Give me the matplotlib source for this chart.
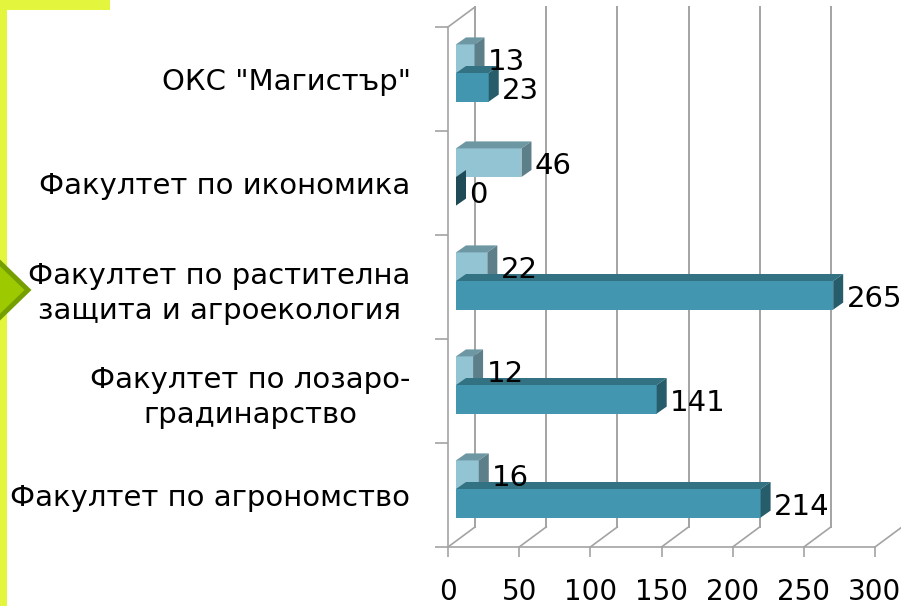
"""Students per faculty, drawn as a PowerPoint-like pseudo-3D bar chart."""
import numpy as np
import matplotlib
matplotlib.use("Agg")
import matplotlib.pyplot as plt
from matplotlib.patches import Polygon, Rectangle

plt.rcParams["font.family"] = ["DejaVu Sans"]

# -------------------------------------------------------
# Data (bottom category first).
# -------------------------------------------------------
categories = [
    "Факултет по агрономство",
    "Факултет по лозаро-\nградинарство",
    "Факултет по растителна\nзащита и агроекология",
    "Факултет по икономика",
    'ОКС "Магистър"',
]
series_dark = [214, 141, 265, 0, 23]
series_light = [16, 12, 22, 46, 13]
x_ticks = [0, 50, 100, 150, 200, 250, 300]

# -------------------------------------------------------
# Geometry / style.
# -------------------------------------------------------
W, H = 901, 606
px_x = 427 / 300.0      # pixels per value unit
px_y = 104.0            # pixels per category unit

def ux(px):
    return px / px_x

def uy(px):
    return px / px_y

DX, DY = ux(27), uy(20)        # full depth of the box
FX, FY = ux(8), uy(6)          # front plane of the bars
BX, BY = ux(10), uy(7)         # depth of one bar
bar_h = 0.275

grid_c = "#a3a3a3"
light = dict(front="#93c4d4", top="#6e97a4", side="#5d7f8a")
dark = dict(front="#4296b0", top="#327283", side="#275d6a")

fig = plt.figure(figsize=(W / 100, H / 100), dpi=100)
fig.patch.set_facecolor("white")

# decorative border and arrow on the left
fig.add_artist(Rectangle((0, 0), 7 / W, 1, transform=fig.transFigure,
                         color="#e3f53c", lw=0))
fig.add_artist(Rectangle((0, 1 - 10 / H), 110 / W, 10 / H,
                         transform=fig.transFigure, color="#e3f53c", lw=0))
arrow = np.array([[-4, 259], [28, 290], [-4, 321]], dtype=float)
fig.add_artist(Polygon(np.c_[arrow[:, 0] / W, 1 - arrow[:, 1] / H],
                       closed=True, transform=fig.transFigure,
                       facecolor="#9cc900", edgecolor="#759f00", lw=3.5))

ax = fig.add_axes([448 / W, (H - 547) / H, 427 / W, 520 / H])
ax.set_xlim(0, 300)
ax.set_ylim(-0.5, 4.5)
ax.patch.set_alpha(0)
for s in ["top", "right"]:
    ax.spines[s].set_visible(False)
for s in ["left", "bottom"]:
    ax.spines[s].set_color(grid_c)
    ax.spines[s].set_linewidth(1.2)

# back wall, floor and left wall
for t in x_ticks:
    ax.plot([t + DX, t + DX], [-0.5 + DY, 4.5 + DY], color=grid_c,
            lw=1.4, clip_on=False, zorder=1)
    ax.plot([t, t + DX], [-0.5, -0.5 + DY], color=grid_c,
            lw=1.2, clip_on=False, zorder=1)
ax.plot([0, DX], [4.5, 4.5 + DY], color=grid_c, lw=1.2,
        clip_on=False, zorder=1)

# ticks
ax.set_xticks(x_ticks)
ax.tick_params(axis="x", direction="out", length=7, width=1.2,
               color=grid_c, labelsize=20, pad=15)
ax.set_yticks(np.arange(-0.5, 4.6, 1.0))
ax.set_yticklabels([])
ax.tick_params(axis="y", which="major", direction="out", length=9.5,
               width=1.2, color=grid_c)
ax.set_yticks(np.arange(len(categories)), minor=True)
ax.set_yticklabels(categories, minor=True)
ax.tick_params(axis="y", which="minor", length=0, labelsize=21, pad=27)
plt.setp(ax.get_yticklabels(minor=True), multialignment="center",
         linespacing=1.3)

# -------------------------------------------------------
# Bars, drawn back (top) to front (bottom); labels on top of all.
# -------------------------------------------------------
z = 2
for i in range(len(categories) - 1, -1, -1):
    for v, y0, col in [
        (series_light[i], i, light),
        (series_dark[i], i - bar_h, dark),
    ]:
        y0 = y0 + FY
        y1 = y0 + bar_h
        ax.barh(y0 + bar_h / 2, v, height=bar_h, left=FX,
                color=col["front"], lw=0, zorder=z, clip_on=False)
        top = [(FX, y1), (FX + v, y1), (FX + v + BX, y1 + BY),
               (FX + BX, y1 + BY)]
        side = [(FX + v, y0), (FX + v + BX, y0 + BY),
                (FX + v + BX, y1 + BY), (FX + v, y1)]
        side_c = col["side"] if v > 0 else "#1f4b56"
        ax.add_patch(Polygon(top, closed=True, color=col["top"], lw=0,
                             zorder=z, clip_on=False))
        ax.add_patch(Polygon(side, closed=True, color=side_c, lw=0,
                             zorder=z, clip_on=False))
        ax.annotate(str(v), (FX + v + BX, y0 + bar_h / 2),
                    xytext=(2.5, -2.5), textcoords="offset points",
                    ha="left", va="center", fontsize=21,
                    zorder=100, annotation_clip=False)
        z += 2

fig.savefig("out.png", dpi=100)
